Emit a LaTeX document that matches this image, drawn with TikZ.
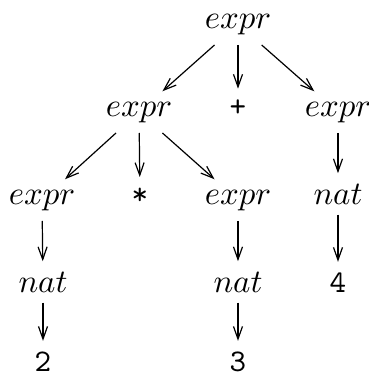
\documentclass[tikz,border=0pt]{standalone}
\usetikzlibrary{arrows.meta}
\begin{document}
\begin{tikzpicture}[x=0.3333pt,y=-0.3333pt,
  nt/.style={anchor=base,font=\fontsize{10.5}{12}\selectfont},
  arr/.style={-{Straight Barb[length=4.2pt,width=3pt]},line width=0.4pt}]
\useasboundingbox (0,0) rectangle (369,378);
\node[nt] (r) at (238,28) {$expr$};
\node[nt] (a) at (139,116) {$expr$};
\node[nt] (p) at (238,116) {\texttt{+}};
\node[nt] (b) at (338,116) {$expr$};
\node[nt] (c) at (42,204) {$expr$};
\node[nt] (m) at (140,204) {\texttt{*}};
\node[nt] (d) at (238,204) {$expr$};
\node[nt] (e) at (338,204) {$nat$};
\node[nt] (f) at (43,292) {$nat$};
\node[nt] (g) at (238,292) {$nat$};
\node[nt] (h) at (338,292) {\texttt{4}};
\node[nt] (i) at (43,371) {\texttt{2}};
\node[nt] (j) at (238,371) {\texttt{3}};
\draw[arr] (r) -- (a);
\draw[arr] (r) -- (p);
\draw[arr] (r) -- (b);
\draw[arr] (a) -- (c);
\draw[arr] (a) -- (m);
\draw[arr] (a) -- (d);
\draw[arr] (b) -- (e);
\draw[arr] (c) -- (f);
\draw[arr] (d) -- (g);
\draw[arr] (e) -- (h);
\draw[arr] (f) -- (i);
\draw[arr] (g) -- (j);
\end{tikzpicture}
\end{document}
